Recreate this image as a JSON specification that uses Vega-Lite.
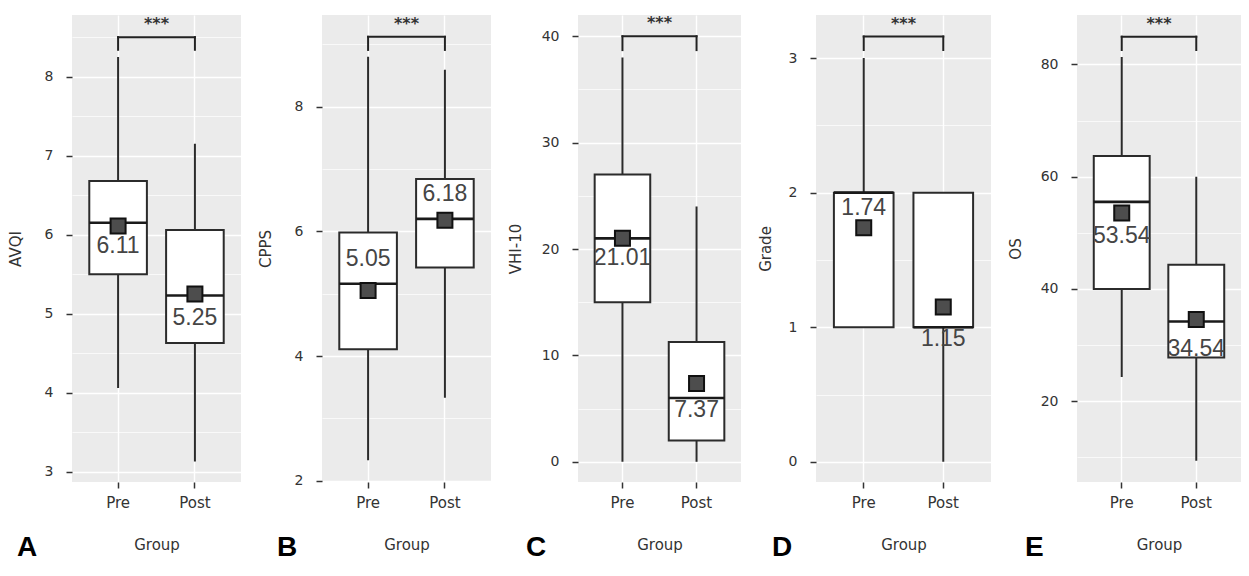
{
  "$schema": "https://vega.github.io/schema/vega-lite/v6.json",
  "padding": {"left": 8, "top": 15, "right": 0, "bottom": 0},
  "spacing": 17,
  "datasets": {
    "stats": [
      {"panel": "A", "group": "Pre", "lo": 4.06, "q1": 5.50, "med": 6.15, "q3": 6.68, "hi": 8.25, "mean": 6.11, "bracket": 8.50, "drop": 8.34, "sig": "***"},
      {"panel": "A", "group": "Post", "lo": 3.13, "q1": 4.63, "med": 5.23, "q3": 6.06, "hi": 7.15, "mean": 5.25, "bracket": 8.50, "drop": 8.34, "sig": "***"},
      {"panel": "B", "group": "Pre", "lo": 2.33, "q1": 4.11, "med": 5.16, "q3": 5.98, "hi": 8.80, "mean": 5.05, "bracket": 9.12, "drop": 8.91, "sig": "***"},
      {"panel": "B", "group": "Post", "lo": 3.33, "q1": 5.42, "med": 6.20, "q3": 6.84, "hi": 8.59, "mean": 6.18, "bracket": 9.12, "drop": 8.91, "sig": "***"},
      {"panel": "C", "group": "Pre", "lo": 0, "q1": 15, "med": 21, "q3": 27, "hi": 38, "mean": 21.01, "bracket": 40, "drop": 38.7, "sig": "***"},
      {"panel": "C", "group": "Post", "lo": 0, "q1": 2, "med": 6, "q3": 11.25, "hi": 24, "mean": 7.37, "bracket": 40, "drop": 38.7, "sig": "***"},
      {"panel": "D", "group": "Pre", "lo": 1, "q1": 1, "med": 2, "q3": 2, "hi": 3, "mean": 1.74, "bracket": 3.16, "drop": 3.06, "sig": "***"},
      {"panel": "D", "group": "Post", "lo": 0, "q1": 1, "med": 1, "q3": 2, "hi": 2, "mean": 1.15, "bracket": 3.16, "drop": 3.06, "sig": "***"},
      {"panel": "E", "group": "Pre", "lo": 24.3, "q1": 40, "med": 55.5, "q3": 63.7, "hi": 81.3, "mean": 53.54, "bracket": 84.93, "drop": 82.56, "sig": "***"},
      {"panel": "E", "group": "Post", "lo": 9.4, "q1": 27.8, "med": 34.2, "q3": 44.3, "hi": 60, "mean": 34.54, "bracket": 84.93, "drop": 82.56, "sig": "***"}
    ]
  },
  "hconcat": [
    {
      "width": 169, "height": 467,
      "title": {"text": "A", "orient": "bottom", "anchor": "start", "frame": "group", "dx": -55, "offset": -18, "fontSize": 28, "fontWeight": "bold", "font": "Liberation Sans", "color": "#000000"},
      "data": {"name": "stats"},
      "transform": [{"filter": "datum.panel == 'A'"}],
      "encoding": {"x": {"field": "group", "type": "nominal", "scale": {"type": "band", "domain": ["Pre", "Post"], "paddingInner": 0.25, "paddingOuter": 0.225}, "axis": {"title": "Group", "labelAngle": 0, "bandPosition": 0.5, "grid": true, "gridWidth": 1.4, "labelPadding": 7, "titlePadding": 27}}},
      "layer": [
        {"mark": {"type": "rule", "color": "#2b2b2b", "strokeWidth": 2}, "encoding": {"y": {"field": "lo", "type": "quantitative", "title": "AVQI", "scale": {"domain": [2.87, 8.78], "nice": false, "zero": false}, "axis": {"values": [3, 3.5, 4, 4.5, 5, 5.5, 6, 6.5, 7, 7.5, 8, 8.5], "labelExpr": "datum.value % 1 == 0 ? format(datum.value, 'd') : ''", "tickOpacity": {"condition": {"test": "datum.value % 1 != 0", "value": 0}, "value": 1}, "gridWidth": {"condition": {"test": "datum.value % 1 != 0", "value": 0.7}, "value": 1.4}, "titlePadding": 21}}, "y2": {"field": "hi"}}},
        {"mark": {"type": "bar", "fill": "#FFFFFF", "stroke": "#2b2b2b", "strokeWidth": 2}, "encoding": {"y": {"field": "q1", "type": "quantitative", "title": "AVQI", "scale": {"domain": [2.87, 8.78], "nice": false, "zero": false}}, "y2": {"field": "q3"}}},
        {"mark": {"type": "tick", "color": "#1a1a1a", "opacity": 1, "thickness": 2.6, "size": 57.6}, "encoding": {"y": {"field": "med", "type": "quantitative", "title": "AVQI", "scale": {"domain": [2.87, 8.78], "nice": false, "zero": false}}}},
        {"mark": {"type": "point", "shape": "square", "filled": true, "fill": "#4d4d4d", "stroke": "#111111", "strokeWidth": 2, "size": 225, "opacity": 1}, "encoding": {"y": {"field": "mean", "type": "quantitative", "title": "AVQI", "scale": {"domain": [2.87, 8.78], "nice": false, "zero": false}}}},
        {"transform": [{"filter": "datum.group == 'Pre'"}], "mark": {"type": "text", "font": "Liberation Sans", "fontSize": 23, "color": "#454545", "baseline": "middle", "dy": 20}, "encoding": {"y": {"field": "mean", "type": "quantitative", "title": "AVQI", "scale": {"domain": [2.87, 8.78], "nice": false, "zero": false}}, "text": {"field": "mean", "format": ".2f"}}},
        {"transform": [{"filter": "datum.group == 'Post'"}], "mark": {"type": "text", "font": "Liberation Sans", "fontSize": 23, "color": "#454545", "baseline": "middle", "dy": 24}, "encoding": {"y": {"field": "mean", "type": "quantitative", "title": "AVQI", "scale": {"domain": [2.87, 8.78], "nice": false, "zero": false}}, "text": {"field": "mean", "format": ".2f"}}},
        {"mark": {"type": "rule", "color": "#222222", "strokeWidth": 2, "strokeCap": "square"}, "encoding": {"y": {"field": "bracket", "type": "quantitative", "title": "AVQI", "scale": {"domain": [2.87, 8.78], "nice": false, "zero": false}}, "y2": {"field": "drop"}}},
        {"mark": {"type": "line", "color": "#222222", "strokeWidth": 2, "strokeCap": "square"}, "encoding": {"y": {"field": "bracket", "type": "quantitative", "title": "AVQI", "scale": {"domain": [2.87, 8.78], "nice": false, "zero": false}}}},
        {"transform": [{"filter": "datum.group == 'Pre'"}], "mark": {"type": "text", "font": "DejaVu Sans", "fontWeight": "bold", "fontSize": 16, "color": "#333333", "baseline": "alphabetic", "dx": 38.4, "dy": -8}, "encoding": {"y": {"field": "bracket", "type": "quantitative", "title": "AVQI", "scale": {"domain": [2.87, 8.78], "nice": false, "zero": false}}, "text": {"field": "sig"}}}
      ]
    },
    {
      "width": 169, "height": 467,
      "title": {"text": "B", "orient": "bottom", "anchor": "start", "frame": "group", "dx": -45, "offset": -18, "fontSize": 28, "fontWeight": "bold", "font": "Liberation Sans", "color": "#000000"},
      "data": {"name": "stats"},
      "transform": [{"filter": "datum.panel == 'B'"}],
      "encoding": {"x": {"field": "group", "type": "nominal", "scale": {"type": "band", "domain": ["Pre", "Post"], "paddingInner": 0.25, "paddingOuter": 0.225}, "axis": {"title": "Group", "labelAngle": 0, "bandPosition": 0.5, "grid": true, "gridWidth": 1.4, "labelPadding": 7, "titlePadding": 27}}},
      "layer": [
        {"mark": {"type": "rule", "color": "#2b2b2b", "strokeWidth": 2}, "encoding": {"y": {"field": "lo", "type": "quantitative", "title": "CPPS", "scale": {"domain": [1.98, 9.47], "nice": false, "zero": false}, "axis": {"values": [2, 3, 4, 5, 6, 7, 8, 9], "labelExpr": "datum.value % 2 == 0 ? format(datum.value, 'd') : ''", "tickOpacity": {"condition": {"test": "datum.value % 2 != 0", "value": 0}, "value": 1}, "gridWidth": {"condition": {"test": "datum.value % 2 != 0", "value": 0.7}, "value": 1.4}, "titlePadding": 21}}, "y2": {"field": "hi"}}},
        {"mark": {"type": "bar", "fill": "#FFFFFF", "stroke": "#2b2b2b", "strokeWidth": 2}, "encoding": {"y": {"field": "q1", "type": "quantitative", "title": "CPPS", "scale": {"domain": [1.98, 9.47], "nice": false, "zero": false}}, "y2": {"field": "q3"}}},
        {"mark": {"type": "tick", "color": "#1a1a1a", "opacity": 1, "thickness": 2.6, "size": 57.6}, "encoding": {"y": {"field": "med", "type": "quantitative", "title": "CPPS", "scale": {"domain": [1.98, 9.47], "nice": false, "zero": false}}}},
        {"mark": {"type": "point", "shape": "square", "filled": true, "fill": "#4d4d4d", "stroke": "#111111", "strokeWidth": 2, "size": 225, "opacity": 1}, "encoding": {"y": {"field": "mean", "type": "quantitative", "title": "CPPS", "scale": {"domain": [1.98, 9.47], "nice": false, "zero": false}}}},
        {"transform": [{"filter": "datum.group == 'Pre'"}], "mark": {"type": "text", "font": "Liberation Sans", "fontSize": 23, "color": "#454545", "baseline": "middle", "dy": -32}, "encoding": {"y": {"field": "mean", "type": "quantitative", "title": "CPPS", "scale": {"domain": [1.98, 9.47], "nice": false, "zero": false}}, "text": {"field": "mean", "format": ".2f"}}},
        {"transform": [{"filter": "datum.group == 'Post'"}], "mark": {"type": "text", "font": "Liberation Sans", "fontSize": 23, "color": "#454545", "baseline": "middle", "dy": -26}, "encoding": {"y": {"field": "mean", "type": "quantitative", "title": "CPPS", "scale": {"domain": [1.98, 9.47], "nice": false, "zero": false}}, "text": {"field": "mean", "format": ".2f"}}},
        {"mark": {"type": "rule", "color": "#222222", "strokeWidth": 2, "strokeCap": "square"}, "encoding": {"y": {"field": "bracket", "type": "quantitative", "title": "CPPS", "scale": {"domain": [1.98, 9.47], "nice": false, "zero": false}}, "y2": {"field": "drop"}}},
        {"mark": {"type": "line", "color": "#222222", "strokeWidth": 2, "strokeCap": "square"}, "encoding": {"y": {"field": "bracket", "type": "quantitative", "title": "CPPS", "scale": {"domain": [1.98, 9.47], "nice": false, "zero": false}}}},
        {"transform": [{"filter": "datum.group == 'Pre'"}], "mark": {"type": "text", "font": "DejaVu Sans", "fontWeight": "bold", "fontSize": 16, "color": "#333333", "baseline": "alphabetic", "dx": 38.4, "dy": -8}, "encoding": {"y": {"field": "bracket", "type": "quantitative", "title": "CPPS", "scale": {"domain": [1.98, 9.47], "nice": false, "zero": false}}, "text": {"field": "sig"}}}
      ]
    },
    {
      "width": 163, "height": 467,
      "title": {"text": "C", "orient": "bottom", "anchor": "start", "frame": "group", "dx": -52, "offset": -18, "fontSize": 28, "fontWeight": "bold", "font": "Liberation Sans", "color": "#000000"},
      "data": {"name": "stats"},
      "transform": [{"filter": "datum.panel == 'C'"}],
      "encoding": {"x": {"field": "group", "type": "nominal", "scale": {"type": "band", "domain": ["Pre", "Post"], "paddingInner": 0.25, "paddingOuter": 0.225}, "axis": {"title": "Group", "labelAngle": 0, "bandPosition": 0.5, "grid": true, "gridWidth": 1.4, "labelPadding": 7, "titlePadding": 27}}},
      "layer": [
        {"mark": {"type": "rule", "color": "#2b2b2b", "strokeWidth": 2}, "encoding": {"y": {"field": "lo", "type": "quantitative", "title": "VHI-10", "scale": {"domain": [-1.9, 42], "nice": false, "zero": false}, "axis": {"values": [0, 5, 10, 15, 20, 25, 30, 35, 40], "labelExpr": "datum.value % 10 == 0 ? format(datum.value, 'd') : ''", "tickOpacity": {"condition": {"test": "datum.value % 10 != 0", "value": 0}, "value": 1}, "gridWidth": {"condition": {"test": "datum.value % 10 != 0", "value": 0.7}, "value": 1.4}, "titlePadding": 18}}, "y2": {"field": "hi"}}},
        {"mark": {"type": "bar", "fill": "#FFFFFF", "stroke": "#2b2b2b", "strokeWidth": 2}, "encoding": {"y": {"field": "q1", "type": "quantitative", "title": "VHI-10", "scale": {"domain": [-1.9, 42], "nice": false, "zero": false}}, "y2": {"field": "q3"}}},
        {"mark": {"type": "tick", "color": "#1a1a1a", "opacity": 1, "thickness": 2.6, "size": 55.6}, "encoding": {"y": {"field": "med", "type": "quantitative", "title": "VHI-10", "scale": {"domain": [-1.9, 42], "nice": false, "zero": false}}}},
        {"mark": {"type": "point", "shape": "square", "filled": true, "fill": "#4d4d4d", "stroke": "#111111", "strokeWidth": 2, "size": 225, "opacity": 1}, "encoding": {"y": {"field": "mean", "type": "quantitative", "title": "VHI-10", "scale": {"domain": [-1.9, 42], "nice": false, "zero": false}}}},
        {"transform": [{"filter": "datum.group == 'Pre'"}], "mark": {"type": "text", "font": "Liberation Sans", "fontSize": 23, "color": "#454545", "baseline": "middle", "dy": 20}, "encoding": {"y": {"field": "mean", "type": "quantitative", "title": "VHI-10", "scale": {"domain": [-1.9, 42], "nice": false, "zero": false}}, "text": {"field": "mean", "format": ".2f"}}},
        {"transform": [{"filter": "datum.group == 'Post'"}], "mark": {"type": "text", "font": "Liberation Sans", "fontSize": 23, "color": "#454545", "baseline": "middle", "dy": 27}, "encoding": {"y": {"field": "mean", "type": "quantitative", "title": "VHI-10", "scale": {"domain": [-1.9, 42], "nice": false, "zero": false}}, "text": {"field": "mean", "format": ".2f"}}},
        {"mark": {"type": "rule", "color": "#222222", "strokeWidth": 2, "strokeCap": "square"}, "encoding": {"y": {"field": "bracket", "type": "quantitative", "title": "VHI-10", "scale": {"domain": [-1.9, 42], "nice": false, "zero": false}}, "y2": {"field": "drop"}}},
        {"mark": {"type": "line", "color": "#222222", "strokeWidth": 2, "strokeCap": "square"}, "encoding": {"y": {"field": "bracket", "type": "quantitative", "title": "VHI-10", "scale": {"domain": [-1.9, 42], "nice": false, "zero": false}}}},
        {"transform": [{"filter": "datum.group == 'Pre'"}], "mark": {"type": "text", "font": "DejaVu Sans", "fontWeight": "bold", "fontSize": 16, "color": "#333333", "baseline": "alphabetic", "dx": 37.0, "dy": -8}, "encoding": {"y": {"field": "bracket", "type": "quantitative", "title": "VHI-10", "scale": {"domain": [-1.9, 42], "nice": false, "zero": false}}, "text": {"field": "sig"}}}
      ]
    },
    {
      "width": 175, "height": 467,
      "title": {"text": "D", "orient": "bottom", "anchor": "start", "frame": "group", "dx": -44, "offset": -18, "fontSize": 28, "fontWeight": "bold", "font": "Liberation Sans", "color": "#000000"},
      "data": {"name": "stats"},
      "transform": [{"filter": "datum.panel == 'D'"}],
      "encoding": {"x": {"field": "group", "type": "nominal", "scale": {"type": "band", "domain": ["Pre", "Post"], "paddingInner": 0.25, "paddingOuter": 0.225}, "axis": {"title": "Group", "labelAngle": 0, "bandPosition": 0.5, "grid": true, "gridWidth": 1.4, "labelPadding": 7, "titlePadding": 27}}},
      "layer": [
        {"mark": {"type": "rule", "color": "#2b2b2b", "strokeWidth": 2}, "encoding": {"y": {"field": "lo", "type": "quantitative", "title": "Grade", "scale": {"domain": [-0.15, 3.32], "nice": false, "zero": false}, "axis": {"values": [0, 0.5, 1, 1.5, 2, 2.5, 3], "labelExpr": "datum.value % 1 == 0 ? format(datum.value, 'd') : ''", "tickOpacity": {"condition": {"test": "datum.value % 1 != 0", "value": 0}, "value": 1}, "gridWidth": {"condition": {"test": "datum.value % 1 != 0", "value": 0.7}, "value": 1.4}, "titlePadding": 15}}, "y2": {"field": "hi"}}},
        {"mark": {"type": "bar", "fill": "#FFFFFF", "stroke": "#2b2b2b", "strokeWidth": 2}, "encoding": {"y": {"field": "q1", "type": "quantitative", "title": "Grade", "scale": {"domain": [-0.15, 3.32], "nice": false, "zero": false}}, "y2": {"field": "q3"}}},
        {"mark": {"type": "tick", "color": "#1a1a1a", "opacity": 1, "thickness": 2.6, "size": 59.7}, "encoding": {"y": {"field": "med", "type": "quantitative", "title": "Grade", "scale": {"domain": [-0.15, 3.32], "nice": false, "zero": false}}}},
        {"mark": {"type": "point", "shape": "square", "filled": true, "fill": "#4d4d4d", "stroke": "#111111", "strokeWidth": 2, "size": 225, "opacity": 1}, "encoding": {"y": {"field": "mean", "type": "quantitative", "title": "Grade", "scale": {"domain": [-0.15, 3.32], "nice": false, "zero": false}}}},
        {"transform": [{"filter": "datum.group == 'Pre'"}], "mark": {"type": "text", "font": "Liberation Sans", "fontSize": 23, "color": "#454545", "baseline": "middle", "dy": -20}, "encoding": {"y": {"field": "mean", "type": "quantitative", "title": "Grade", "scale": {"domain": [-0.15, 3.32], "nice": false, "zero": false}}, "text": {"field": "mean", "format": ".2f"}}},
        {"transform": [{"filter": "datum.group == 'Post'"}], "mark": {"type": "text", "font": "Liberation Sans", "fontSize": 23, "color": "#454545", "baseline": "middle", "dy": 32}, "encoding": {"y": {"field": "mean", "type": "quantitative", "title": "Grade", "scale": {"domain": [-0.15, 3.32], "nice": false, "zero": false}}, "text": {"field": "mean", "format": ".2f"}}},
        {"mark": {"type": "rule", "color": "#222222", "strokeWidth": 2, "strokeCap": "square"}, "encoding": {"y": {"field": "bracket", "type": "quantitative", "title": "Grade", "scale": {"domain": [-0.15, 3.32], "nice": false, "zero": false}}, "y2": {"field": "drop"}}},
        {"mark": {"type": "line", "color": "#222222", "strokeWidth": 2, "strokeCap": "square"}, "encoding": {"y": {"field": "bracket", "type": "quantitative", "title": "Grade", "scale": {"domain": [-0.15, 3.32], "nice": false, "zero": false}}}},
        {"transform": [{"filter": "datum.group == 'Pre'"}], "mark": {"type": "text", "font": "DejaVu Sans", "fontWeight": "bold", "fontSize": 16, "color": "#333333", "baseline": "alphabetic", "dx": 39.8, "dy": -8}, "encoding": {"y": {"field": "bracket", "type": "quantitative", "title": "Grade", "scale": {"domain": [-0.15, 3.32], "nice": false, "zero": false}}, "text": {"field": "sig"}}}
      ]
    },
    {
      "width": 164, "height": 467,
      "title": {"text": "E", "orient": "bottom", "anchor": "start", "frame": "group", "dx": -52, "offset": -18, "fontSize": 28, "fontWeight": "bold", "font": "Liberation Sans", "color": "#000000"},
      "data": {"name": "stats"},
      "transform": [{"filter": "datum.panel == 'E'"}],
      "encoding": {"x": {"field": "group", "type": "nominal", "scale": {"type": "band", "domain": ["Pre", "Post"], "paddingInner": 0.25, "paddingOuter": 0.225}, "axis": {"title": "Group", "labelAngle": 0, "bandPosition": 0.5, "grid": true, "gridWidth": 1.4, "labelPadding": 7, "titlePadding": 27}}},
      "layer": [
        {"mark": {"type": "rule", "color": "#2b2b2b", "strokeWidth": 2}, "encoding": {"y": {"field": "lo", "type": "quantitative", "title": "OS", "scale": {"domain": [5.6, 88.8], "nice": false, "zero": false}, "axis": {"values": [10, 20, 30, 40, 50, 60, 70, 80], "labelExpr": "datum.value % 20 == 0 ? format(datum.value, 'd') : ''", "tickOpacity": {"condition": {"test": "datum.value % 20 != 0", "value": 0}, "value": 1}, "gridWidth": {"condition": {"test": "datum.value % 20 != 0", "value": 0.7}, "value": 1.4}, "titlePadding": 17}}, "y2": {"field": "hi"}}},
        {"mark": {"type": "bar", "fill": "#FFFFFF", "stroke": "#2b2b2b", "strokeWidth": 2}, "encoding": {"y": {"field": "q1", "type": "quantitative", "title": "OS", "scale": {"domain": [5.6, 88.8], "nice": false, "zero": false}}, "y2": {"field": "q3"}}},
        {"mark": {"type": "tick", "color": "#1a1a1a", "opacity": 1, "thickness": 2.6, "size": 55.9}, "encoding": {"y": {"field": "med", "type": "quantitative", "title": "OS", "scale": {"domain": [5.6, 88.8], "nice": false, "zero": false}}}},
        {"mark": {"type": "point", "shape": "square", "filled": true, "fill": "#4d4d4d", "stroke": "#111111", "strokeWidth": 2, "size": 225, "opacity": 1}, "encoding": {"y": {"field": "mean", "type": "quantitative", "title": "OS", "scale": {"domain": [5.6, 88.8], "nice": false, "zero": false}}}},
        {"transform": [{"filter": "datum.group == 'Pre'"}], "mark": {"type": "text", "font": "Liberation Sans", "fontSize": 23, "color": "#454545", "baseline": "middle", "dy": 23}, "encoding": {"y": {"field": "mean", "type": "quantitative", "title": "OS", "scale": {"domain": [5.6, 88.8], "nice": false, "zero": false}}, "text": {"field": "mean", "format": ".2f"}}},
        {"transform": [{"filter": "datum.group == 'Post'"}], "mark": {"type": "text", "font": "Liberation Sans", "fontSize": 23, "color": "#454545", "baseline": "middle", "dy": 29}, "encoding": {"y": {"field": "mean", "type": "quantitative", "title": "OS", "scale": {"domain": [5.6, 88.8], "nice": false, "zero": false}}, "text": {"field": "mean", "format": ".2f"}}},
        {"mark": {"type": "rule", "color": "#222222", "strokeWidth": 2, "strokeCap": "square"}, "encoding": {"y": {"field": "bracket", "type": "quantitative", "title": "OS", "scale": {"domain": [5.6, 88.8], "nice": false, "zero": false}}, "y2": {"field": "drop"}}},
        {"mark": {"type": "line", "color": "#222222", "strokeWidth": 2, "strokeCap": "square"}, "encoding": {"y": {"field": "bracket", "type": "quantitative", "title": "OS", "scale": {"domain": [5.6, 88.8], "nice": false, "zero": false}}}},
        {"transform": [{"filter": "datum.group == 'Pre'"}], "mark": {"type": "text", "font": "DejaVu Sans", "fontWeight": "bold", "fontSize": 16, "color": "#333333", "baseline": "alphabetic", "dx": 37.3, "dy": -8}, "encoding": {"y": {"field": "bracket", "type": "quantitative", "title": "OS", "scale": {"domain": [5.6, 88.8], "nice": false, "zero": false}}, "text": {"field": "sig"}}}
      ]
    }
  ],
  "config": {
    "view": {"fill": "#EBEBEB", "stroke": null},
    "axis": {"domain": false, "labelFont": "DejaVu Sans", "titleFont": "DejaVu Sans", "labelFontSize": 14, "titleFontSize": 15, "labelColor": "#333333", "titleColor": "#333333", "titleFontWeight": "normal", "tickColor": "#333333", "tickWidth": 1.5, "tickSize": 6, "gridColor": "#FFFFFF", "labelPadding": 13},
    "axisX": {"labelFontSize": 15}
  }
}
